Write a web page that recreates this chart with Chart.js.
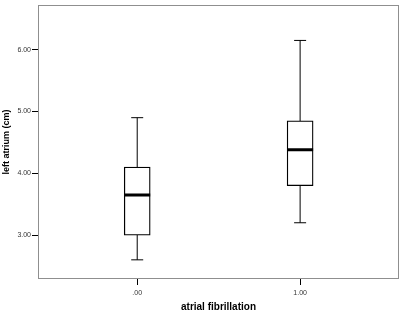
<!DOCTYPE html>
<html>
<head>
<meta charset="utf-8">
<script src="https://cdn.jsdelivr.net/npm/chart.js@4/dist/chart.umd.min.js"></script>
<style>
html,body{margin:0;padding:0;background:#fff;}
#wrap{width:402px;height:313px;}
</style>
</head>
<body>
<div id="wrap"><canvas id="c" width="402" height="313"></canvas></div>
<script>
// Data
const categories = ['.00', '1.00'];
const xPositions = [0, 1];
const mins    = [2.60, 3.20];
const q1s     = [3.00, 3.80];
const medians = [3.65, 4.38];
const q3s     = [4.10, 4.85];
const maxs    = [4.90, 6.15];
const yTicks  = [3, 4, 5, 6];

const boxData = xPositions.map((x, i) => ({x: x, y: [q1s[i], q3s[i]]}));
const medianData = xPositions.map((x, i) => ({x: x, y: medians[i]}));
const capData = [];
xPositions.forEach((x, i) => {
  capData.push({x: x, y: mins[i]}, {x: x, y: maxs[i]});
});
// one whisker line per group, min to max, drawn behind the white box
const whiskerSets = xPositions.map((x, i) => ({
  type: 'scatter',
  data: [{x: x, y: mins[i]}, {x: x, y: maxs[i]}],
  showLine: true,
  borderColor: '#000',
  borderWidth: 1,
  pointRadius: 0,
  order: 3
}));

const framePlugin = {
  id: 'frame',
  beforeDatasetsDraw(chart) {
    const a = chart.chartArea, ctx = chart.ctx;
    ctx.save();
    ctx.strokeStyle = '#8f8f8f';
    ctx.lineWidth = 1;
    ctx.strokeRect(Math.round(a.left) + 0.5, Math.round(a.top) + 0.5,
                   Math.round(a.right - a.left) - 1, Math.round(a.bottom - a.top) - 1);
    ctx.restore();
  }
};

new Chart(document.getElementById('c'), {
  type: 'bar',
  data: {
    datasets: [
      ...whiskerSets,
      {
        type: 'scatter',
        data: capData,
        pointStyle: 'line',
        pointRadius: 6,
        pointBorderWidth: 1,
        borderColor: '#000',
        order: 2
      },
      {
        type: 'bar',
        data: boxData,
        backgroundColor: '#fff',
        borderColor: '#000',
        borderWidth: 1.3,
        borderSkipped: false,
        barThickness: 26,
        order: 1
      },
      {
        type: 'scatter',
        data: medianData,
        pointStyle: 'line',
        pointRadius: 13,
        pointBorderWidth: 3,
        borderColor: '#000',
        order: 0
      }
    ]
  },
  options: {
    responsive: false,
    animation: false,
    layout: {autoPadding: false, padding: {top: 3, right: 3, left: 0, bottom: 0}},
    plugins: {legend: {display: false}, tooltip: {enabled: false}},
    scales: {
      x: {
        type: 'linear',
        offset: false,
        min: -0.609,
        max: 1.607,
        afterBuildTicks: s => { s.ticks = xPositions.map(v => ({value: v})); },
        afterFit: s => { s.height = 34; },
        ticks: {
          callback: v => categories[xPositions.indexOf(v)],
          color: '#333',
          font: {family: 'Liberation Sans', size: 7},
          padding: 4,
          maxRotation: 0
        },
        grid: {display: true, offset: false, drawOnChartArea: false, drawTicks: true, tickLength: 6, color: '#000'},
        border: {display: false},
        title: {
          display: true,
          text: 'atrial fibrillation',
          color: '#000',
          font: {family: 'Liberation Sans', size: 10, weight: 'bold'},
          padding: {top: 0, bottom: 0}
        }
      },
      y: {
        type: 'linear',
        min: 2.29,
        max: 6.72,
        afterBuildTicks: s => { s.ticks = yTicks.map(v => ({value: v})); },
        afterFit: s => { s.width = 38; },
        ticks: {
          callback: v => v.toFixed(2),
          color: '#333',
          font: {family: 'Liberation Sans', size: 7},
          padding: 1
        },
        grid: {display: true, drawOnChartArea: false, drawTicks: true, tickLength: 6, color: '#000'},
        border: {display: false},
        title: {
          display: true,
          text: 'left atrium (cm)',
          color: '#000',
          font: {family: 'Liberation Sans', size: 9, weight: 'bold'},
          padding: {top: 1, bottom: 0}
        }
      }
    }
  },
  plugins: [framePlugin]
});
</script>
</body>
</html>
